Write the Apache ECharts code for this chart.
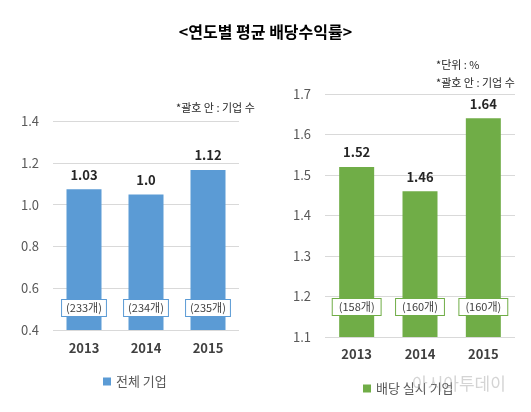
<!DOCTYPE html>
<html><head><meta charset="utf-8">
<script src="https://cdn.jsdelivr.net/npm/echarts@6/dist/echarts.min.js"></script>
<style>html,body{margin:0;padding:0;background:#fff}#c{width:531px;height:412px}</style>
</head><body><div id="c"></div>
<script>
var years = ['2013', '2014', '2015'];
// left chart: bar heights as drawn, and the printed value labels
var allBars = [1.073, 1.048, 1.166];
var allLabels = ['1.03', '1.0', '1.12'];
var allCounts = ['(233개)', '(234개)', '(235개)'];
// right chart
var payBars = [1.52, 1.46, 1.64];
var payLabels = ['1.52', '1.46', '1.64'];
var payCounts = ['(158개)', '(160개)', '(160개)'];
var leftTicks = {min: 0.4, max: 1.4, interval: 0.2};
var rightTicks = {min: 1.1, max: 1.7, interval: 0.1};

var FF = '"Noto Sans CJK KR", "Noto Sans", sans-serif';
var BLUE = '#5B9BD5', GREEN = '#70AD47';

function yAx(idx, t) {
  return {
    type: 'value', gridIndex: idx, min: t.min, max: t.max, interval: t.interval,
    axisLine: {show: false}, axisTick: {show: false},
    splitLine: {lineStyle: {color: '#d9d9d9'}},
    axisLabel: {color: '#595959', fontSize: 13, fontFamily: FF, margin: 14,
      formatter: function (v) { return v.toFixed(1); }}
  };
}
function xAx(idx, margin) {
  return {
    type: 'category', gridIndex: idx, data: years,
    axisLine: {show: false}, axisTick: {show: false},
    axisLabel: {color: '#404040', fontSize: 13, fontWeight: 'bold', fontFamily: FF, margin: margin}
  };
}
function mainSeries(name, idx, data, labels, color) {
  return {
    name: name, type: 'bar', xAxisIndex: idx, yAxisIndex: idx, data: data,
    barWidth: 35, itemStyle: {color: color},
    label: {show: true, position: 'top', distance: 8, fontSize: 13, fontWeight: 'bold',
      color: '#262626', fontFamily: FF,
      formatter: function (p) { return labels[p.dataIndex]; }}
  };
}
function countSeries(idx, data, counts, color, dist, padX) {
  return {
    name: 'cnt' + idx, type: 'bar', xAxisIndex: idx, yAxisIndex: idx, data: data,
    barWidth: 35, barGap: '-100%', itemStyle: {color: 'rgba(0,0,0,0)'}, silent: true, z: 5,
    label: {show: true, position: 'insideBottom', distance: dist, fontSize: 11,
      color: '#404040', fontFamily: FF, backgroundColor: '#fff', borderColor: color,
      borderWidth: 1, padding: [2, padX], lineHeight: 12,
      formatter: function (p) { return counts[p.dataIndex]; }}
  };
}

var chart = echarts.init(document.getElementById('c'));
chart.setOption({
  animation: false,
  textStyle: {fontFamily: FF},
  title: {text: '<연도별 평균 배당수익률>', left: 'center', top: 19,
    textStyle: {fontSize: 16, fontWeight: 'bold', color: '#000', fontFamily: FF}},
  grid: [
    {left: 53, right: 292, top: 121, bottom: 82},
    {left: 325, right: 16, top: 94, bottom: 75}
  ],
  xAxis: [xAx(0, 12), xAx(1, 11)],
  yAxis: [yAx(0, leftTicks), yAx(1, rightTicks)],
  legend: [
    {data: ['전체 기업'], left: 98, top: 370, icon: 'rect', itemWidth: 8, itemHeight: 8, itemGap: 4,
      textStyle: {color: '#595959', fontSize: 13, fontFamily: FF}},
    {data: ['배당 실시 기업'], left: 358, top: 377, icon: 'rect', itemWidth: 8, itemHeight: 8, itemGap: 4,
      textStyle: {color: '#595959', fontSize: 13, fontFamily: FF}}
  ],
  graphic: [
    {type: 'text', left: 176, top: 102, style: {text: '*괄호 안 : 기업 수', fontSize: 11, fill: '#262626', fontFamily: FF}},
    {type: 'text', left: 436, top: 59, style: {text: '*단위 : %', fontSize: 11, fill: '#262626', fontFamily: FF}},
    {type: 'text', left: 436, top: 77, style: {text: '*괄호 안 : 기업 수', fontSize: 11, fill: '#262626', fontFamily: FF}},
    {type: 'text', left: 412, top: 375, z: 100, style: {text: '아시아투데이', fontSize: 17, fill: 'rgba(160,160,160,0.45)', fontFamily: FF}}
  ],
  series: [
    mainSeries('전체 기업', 0, allBars, allLabels, BLUE),
    countSeries(0, allBars, allCounts, BLUE, 14, 4),
    mainSeries('배당 실시 기업', 1, payBars, payLabels, GREEN),
    countSeries(1, payBars, payCounts, GREEN, 22, 6)
  ]
});
</script></body></html>
